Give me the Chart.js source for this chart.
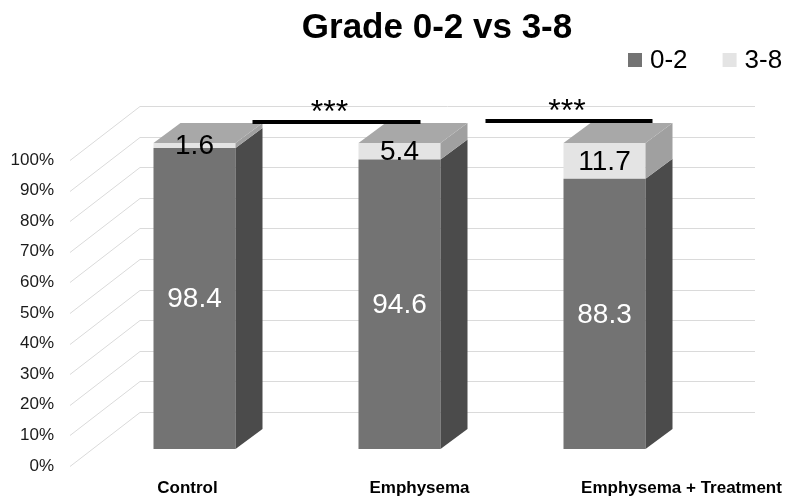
<!DOCTYPE html>
<html>
<head>
<meta charset="utf-8">
<script src="https://cdn.jsdelivr.net/npm/chart.js@4/dist/chart.umd.min.js"></script>
<style>
  html, body { margin: 0; padding: 0; background: #fff; }
  #wrap { width: 788px; height: 498px; position: relative; }
</style>
</head>
<body>
<div id="wrap"><canvas id="gradeChart"></canvas></div>
<script>
const categories = ["Control", "Emphysema", "Emphysema + Treatment"];
const grade02 = [98.4, 94.6, 88.3];
const grade38 = [1.6, 5.4, 11.7];
const yTicks = [0, 10, 20, 30, 40, 50, 60, 70, 80, 90, 100];
const yTickLabels = ["0%", "10%", "20%", "30%", "40%", "50%", "60%", "70%", "80%", "90%", "100%"];
const significance = ["***", "***"];

const FONT = '"Liberation Sans", Arial, sans-serif';

// depth of each bar, and offsets from the bar plane to the back wall / front edge
const DEPTH_X = 27, DEPTH_Y = -20;
const WALL_X = 48, WALL_Y = -37;
const FRONT_X = -22, FRONT_Y = 17;

function face(ctx, pts, color) {
    ctx.beginPath();
    ctx.moveTo(pts[0][0], pts[0][1]);
    for (let i = 1; i < pts.length; i++) ctx.lineTo(pts[i][0], pts[i][1]);
    ctx.closePath();
    ctx.fillStyle = color;
    ctx.fill();
}

const bars3d = {
    id: "bars3d",
    beforeDatasetsDraw(chart) {
        const { ctx, chartArea, scales } = chart;
        const y = scales.y;
        ctx.save();
        // walls: slanted side lines + back wall lines
        ctx.strokeStyle = "#dadada";
        ctx.lineWidth = 1;
        yTicks.forEach((v) => {
            const py = Math.round(y.getPixelForValue(v)) + 0.5;
            ctx.beginPath();
            ctx.moveTo(chartArea.left + FRONT_X, py + FRONT_Y);
            ctx.lineTo(chartArea.left + WALL_X, py + WALL_Y);
            ctx.lineTo(chartArea.right + WALL_X, py + WALL_Y);
            ctx.stroke();
        });
        // y tick labels along the front edge
        ctx.fillStyle = "#1a1a1a";
        ctx.font = "17px " + FONT;
        ctx.textAlign = "right";
        ctx.textBaseline = "middle";
        yTicks.forEach((v, i) => {
            ctx.fillText(yTickLabels[i], chartArea.left - 38, y.getPixelForValue(v) + FRONT_Y);
        });
        ctx.restore();
    },
    afterDatasetsDraw(chart) {
        const { ctx } = chart;
        const last = chart.data.datasets.length - 1;
        ctx.save();
        chart.data.datasets.forEach((ds, di) => {
            chart.getDatasetMeta(di).data.forEach((bar) => {
                const { x, y, base, width } = bar.getProps(["x", "y", "base", "width"], true);
                const r = x + width / 2, l = x - width / 2;
                face(ctx, [[r, y], [r + DEPTH_X, y + DEPTH_Y], [r + DEPTH_X, base + DEPTH_Y], [r, base]], ds.sideColor);
                if (di === last) {
                    face(ctx, [[l, y], [l + DEPTH_X, y + DEPTH_Y], [r + DEPTH_X, y + DEPTH_Y], [r, y]], ds.topColor);
                }
            });
        });
        // value labels in the middle of each segment
        ctx.font = "28px " + FONT;
        ctx.textAlign = "center";
        ctx.textBaseline = "middle";
        chart.data.datasets.forEach((ds, di) => {
            chart.getDatasetMeta(di).data.forEach((bar, i) => {
                const { x, y, base } = bar.getProps(["x", "y", "base"], true);
                ctx.fillStyle = ds.labelColor;
                ctx.fillText(ds.data[i].toFixed(1), x, (y + base) / 2 + 1);
            });
        });
        ctx.restore();
    },
    afterDraw(chart) {
        const { ctx, scales, chartArea } = chart;
        const xs = scales.x, ys = scales.y;
        const top = ys.getPixelForValue(100);
        ctx.save();

        // significance brackets between neighbouring groups
        const brackets = [
            { a: xs.getPixelForValue(0) + 58, b: xs.getPixelForValue(1) + 21, y: top - 21, sx: -7 },
            { a: xs.getPixelForValue(1) + 86, b: xs.getPixelForValue(2) + 48, y: top - 22, sx: -2 }
        ];
        ctx.strokeStyle = "#000";
        ctx.lineWidth = 4;
        ctx.fillStyle = "#000";
        ctx.font = "32px " + FONT;
        ctx.textAlign = "center";
        ctx.textBaseline = "middle";
        brackets.forEach((br, i) => {
            ctx.beginPath();
            ctx.moveTo(br.a, br.y);
            ctx.lineTo(br.b, br.y);
            ctx.stroke();
            ctx.fillText(significance[i], (br.a + br.b) / 2 + br.sx, br.y - 9);
        });

        // category labels
        const shift = [-7, 20, 77];
        ctx.font = "bold 17px " + FONT;
        categories.forEach((c, i) => {
            ctx.fillText(c, xs.getPixelForValue(i) + shift[i], chartArea.bottom + 39);
        });

        // title
        ctx.font = "bold 35px " + FONT;
        ctx.fillText("Grade 0-2 vs 3-8", 437, 28);

        // legend
        ctx.font = "26px " + FONT;
        ctx.textAlign = "left";
        let lx = 628;
        chart.data.datasets.forEach((ds) => {
            ctx.fillStyle = ds.backgroundColor;
            ctx.fillRect(lx, 53, 14, 14);
            ctx.fillStyle = "#000";
            ctx.fillText(ds.label, lx + 22, 61);
            lx += 22 + ctx.measureText(ds.label).width + 35;
        });
        ctx.restore();
    }
};

new Chart(document.getElementById("gradeChart"), {
    type: "bar",
    data: {
        labels: categories,
        datasets: [
            {
                label: "0-2",
                data: grade02,
                backgroundColor: "#737373",
                sideColor: "#4b4b4b",
                topColor: "#a6a6a6",
                labelColor: "#ffffff"
            },
            {
                label: "3-8",
                data: grade38,
                backgroundColor: "#e4e4e4",
                sideColor: "#a0a0a0",
                topColor: "#a8a8a8",
                labelColor: "#000000"
            }
        ]
    },
    options: {
        responsive: true,
        maintainAspectRatio: false,
        animation: false,
        layout: { padding: { left: 92, right: 81, top: 143, bottom: 49 } },
        datasets: { bar: { categoryPercentage: 1, barPercentage: 0.4 } },
        plugins: {
            legend: { display: false },
            title: { display: false },
            tooltip: { enabled: false }
        },
        scales: {
            x: { stacked: true, display: false },
            y: { stacked: true, display: false, min: 0, max: 100 }
        }
    },
    plugins: [bars3d]
});
</script>
</body>
</html>
